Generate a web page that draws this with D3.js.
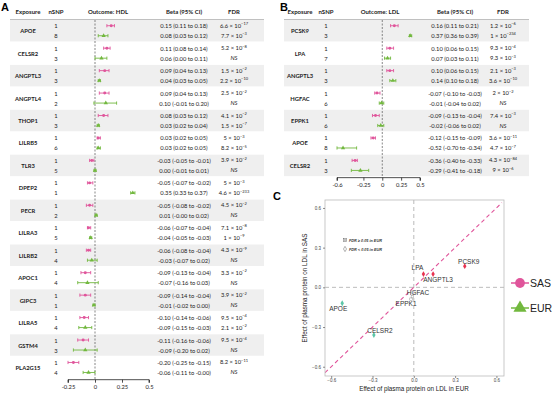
<!DOCTYPE html>
<html>
<head>
<meta charset="utf-8">
<script src="https://cdn.jsdelivr.net/npm/d3@7"></script>
<style>
  body { margin: 0; background: #fff; }
  svg { display: block; }
  .tbl { font-family: Lato, "Open Sans", sans-serif; fill: #222; }
  .gg { font-family: "Liberation Sans", Arial, sans-serif; }
</style>
</head>
<body>
<svg id="fig" width="554" height="395"></svg>
<script>
// ---- data: HDL (panel A) ----
const hdlGenes = ["APOE", "CELSR2", "ANGPTL3", "ANGPTL4", "THOP1", "LILRB5", "TLR3", "DPEP2",
  "PECR", "LILRA3", "LILRB2", "APOC1", "GIPC3", "LILRA5", "GSTM4", "PLA2G15"];
// [nSNP, beta, lower, upper, FDR]
const hdlSas = [
  [1, 0.15, 0.11, 0.18, "6.6e-17"], [1, 0.11, 0.08, 0.14, "5.2e-8"], [1, 0.09, 0.04, 0.13, "1.5e-2"],
  [1, 0.09, 0.04, 0.13, "2.5e-2"], [1, 0.08, 0.03, 0.12, "4.1e-2"], [1, 0.03, 0.02, 0.05, "5e-3"],
  [1, -0.03, -0.05, -0.01, "3.9e-2"], [1, -0.05, -0.07, -0.02, "5e-3"], [1, -0.05, -0.08, -0.02, "4.5e-2"],
  [1, -0.06, -0.07, -0.04, "7.1e-8"], [1, -0.06, -0.08, -0.04, "4.3e-9"], [1, -0.09, -0.13, -0.04, "3.3e-2"],
  [1, -0.09, -0.14, -0.04, "3.9e-2"], [1, -0.10, -0.14, -0.06, "9.5e-4"], [1, -0.11, -0.16, -0.06, "9.5e-4"],
  [1, -0.20, -0.25, -0.15, "8.2e-11"]];
const hdlEur = [
  [8, 0.08, 0.03, 0.12, "7.7e-3"], [3, 0.06, 0.00, 0.11, "NS"], [3, 0.04, 0.03, 0.05, "2.2e-10"],
  [2, 0.10, -0.01, 0.20, "NS"], [3, 0.03, 0.02, 0.04, "1.5e-7"], [6, 0.03, 0.02, 0.05, "8.2e-5"],
  [5, 0.00, -0.01, 0.01, "NS"], [1, 0.35, 0.33, 0.37, "4.6e-233"], [2, 0.01, -0.00, 0.02, "NS"],
  [5, -0.04, -0.05, -0.03, "1e-9"], [4, -0.03, -0.07, 0.02, "NS"], [4, -0.07, -0.16, 0.03, "NS"],
  [1, -0.01, -0.02, 0.00, "NS"], [4, -0.09, -0.15, -0.03, "2.1e-2"], [3, -0.09, -0.20, 0.02, "NS"],
  [4, -0.06, -0.11, -0.00, "NS"]];
const hdlTicks = [-0.25, 0, 0.25, 0.5];

// ---- data: LDL (panel B, also panel C) ----
const ldlGenes = ["PCSK9", "LPA", "ANGPTL3", "HGFAC", "EPPK1", "APOE", "CELSR2"];
const ldlSas = [
  [1, 0.16, 0.11, 0.21, "1.2e-6"], [1, 0.10, 0.06, 0.15, "9.3e-4"], [1, 0.10, 0.06, 0.15, "2.1e-3"],
  [1, -0.07, -0.10, -0.03, "2e-2"], [1, -0.09, -0.13, -0.04, "7.4e-3"], [1, -0.12, -0.15, -0.09, "3.6e-11"],
  [1, -0.36, -0.40, -0.33, "4.3e-84"]];
const ldlEur = [
  [3, 0.37, 0.36, 0.39, "1e-234"], [7, 0.07, 0.03, 0.11, "9.3e-3"], [3, 0.14, 0.10, 0.18, "3.6e-10"],
  [6, -0.01, -0.04, 0.02, "NS"], [6, -0.02, -0.06, 0.02, "NS"], [8, -0.52, -0.70, -0.34, "4.7e-7"],
  [3, -0.29, -0.41, -0.18, "9e-6"]];
const ldlTicks = [-0.6, -0.25, 0, 0.25, 0.5];

const scatterTicks = [-0.6, -0.3, 0.0, 0.3, 0.6];

const pink = "#e0559b", green = "#72b83e";
const svg = d3.select("#fig");

function fmt(v) {
  return (v < 0 || Object.is(v, -0) ? "-" : "") + Math.abs(v).toFixed(2);
}

function fdrText(sel, s) {
  if (s === "NS") {
    sel.append("tspan").attr("font-style", "italic").text("NS");
    return;
  }
  const [m, e] = s.split("e");
  sel.append("tspan").text(m + " \u00d7 10");
  sel.append("tspan").attr("dy", -2.3).attr("font-size", 4).text("\u2212" + e.replace("-", ""));
}

function forest(cfg) {
  const g = svg.append("g");
  const y = d3.scaleBand().domain(cfg.genes).range([19.5, 19.5 + cfg.genes.length * 22.45]);
  const x = d3.scaleLinear().domain(cfg.domain).range(cfg.range);
  const bottom = y.range()[1];

  // panel letter
  svg.append("text").attr("x", cfg.letterX).attr("y", 11).attr("font-family", "Liberation Sans, Arial")
    .attr("font-weight", "bold").attr("font-size", 11).text(cfg.letter);

  // shaded bands
  g.selectAll("rect.band").data(cfg.genes.filter((d, i) => i % 2 === 0)).enter().append("rect")
    .attr("x", cfg.bandX[0]).attr("width", cfg.bandX[1] - cfg.bandX[0])
    .attr("y", d => y(d) + 0.5).attr("height", y.bandwidth() - 1)
    .attr("fill", "#efefef");
  g.append("line").attr("x1", cfg.bandX[0]).attr("x2", cfg.bandX[1]).attr("y1", 19.5).attr("y2", 19.5)
    .attr("stroke", "#b0b0b0").attr("stroke-width", 0.8);

  // headers
  const hdr = [[cfg.cols.exp, "Exposure"], [cfg.cols.snp, "nSNP"], [cfg.cols.plot, cfg.outcome],
    [cfg.cols.beta, "Beta (95% CI)"], [cfg.cols.fdr, "FDR"]];
  g.selectAll("text.hdr").data(hdr).enter().append("text").attr("class", "tbl")
    .attr("x", d => d[0]).attr("y", 14).attr("text-anchor", "middle")
    .attr("font-size", 6).attr("font-weight", "bold").text(d => d[1]);

  // gene names
  g.selectAll("text.gene").data(cfg.genes).enter().append("text").attr("class", "tbl")
    .attr("x", cfg.cols.exp).attr("y", d => y(d) + y.bandwidth() / 2)
    .attr("dominant-baseline", "central").attr("text-anchor", "middle")
    .attr("font-size", 5.8).attr("font-weight", "bold").text(d => d);

  // zero line
  g.append("line").attr("x1", x(0)).attr("x2", x(0)).attr("y1", 20).attr("y2", bottom + 1)
    .attr("stroke", "#555").attr("stroke-width", 0.7).attr("stroke-dasharray", "2,1.5");

  const rows = [];
  cfg.genes.forEach((gene, i) => {
    rows.push({ gene, r: cfg.sas[i], pop: "SAS", yy: y(gene) + y.bandwidth() / 2 - 5 });
    rows.push({ gene, r: cfg.eur[i], pop: "EUR", yy: y(gene) + y.bandwidth() / 2 + 5 });
  });
  const clip = v => Math.max(cfg.domain[0], Math.min(cfg.domain[1], v));

  rows.forEach(d => {
    const col = d.pop === "SAS" ? pink : green;
    g.append("text").attr("class", "tbl").attr("x", cfg.cols.snp).attr("y", d.yy)
      .attr("dominant-baseline", "central").attr("text-anchor", "middle").attr("font-size", 5.8)
      .text(d.r[0]);
    g.append("text").attr("class", "tbl").attr("x", cfg.cols.beta).attr("y", d.yy)
      .attr("dominant-baseline", "central").attr("text-anchor", "middle").attr("font-size", 5.8)
      .text(`${fmt(d.r[1])} (${fmt(d.r[2])} to ${fmt(d.r[3])})`);
    const ft = g.append("text").attr("class", "tbl").attr("x", cfg.cols.fdr).attr("y", d.yy + 2)
      .attr("text-anchor", "middle").attr("font-size", 5.8);
    fdrText(ft, d.r[4]);

    const x1 = x(clip(d.r[2])), x2 = x(clip(d.r[3]));
    g.append("line").attr("x1", x1).attr("x2", x2).attr("y1", d.yy).attr("y2", d.yy)
      .attr("stroke", col).attr("stroke-width", 0.9);
    [x1, x2].forEach(xx => g.append("line").attr("x1", xx).attr("x2", xx)
      .attr("y1", d.yy - 1.6).attr("y2", d.yy + 1.6).attr("stroke", col).attr("stroke-width", 0.9));
    g.append("path").attr("transform", `translate(${x(d.r[1])},${d.yy})`)
      .attr("d", d3.symbol().type(d.pop === "SAS" ? d3.symbolCircle : d3.symbolTriangle).size(d.pop === "SAS" ? 7 : 8)())
      .attr("fill", col);
  });

  // axis
  const ax = g.append("g").attr("transform", `translate(0,${bottom + 1})`)
    .call(d3.axisBottom(x).tickValues(cfg.ticks).tickSize(3).tickFormat(d => d === 0 ? "0" : String(d)));
  ax.select(".domain").attr("stroke", "#222").attr("stroke-width", 0.8)
    .attr("d", `M${x(cfg.domain[0])},3V0H${x(cfg.domain[1])}V3`);
  ax.selectAll(".tick line").attr("stroke", "#222").attr("stroke-width", 0.8);
  ax.selectAll(".tick text").attr("font-family", "Lato, sans-serif").attr("font-size", 5.8)
    .attr("fill", "#222").attr("dy", "0.5em");
}

forest({
  letter: "A", letterX: 1, genes: hdlGenes, sas: hdlSas, eur: hdlEur, outcome: "Outcome: HDL",
  domain: [-0.25, 0.5], range: [68, 149], ticks: hdlTicks, bandX: [10, 264],
  cols: { exp: 28, snp: 56, plot: 108, beta: 184, fdr: 234 }
});
forest({
  letter: "B", letterX: 280, genes: ldlGenes, sas: ldlSas, eur: ldlEur, outcome: "Outcome: LDL",
  domain: [-0.6, 0.5], range: [337, 420], ticks: ldlTicks, bandX: [284, 529],
  cols: { exp: 300, snp: 326, plot: 380, beta: 455, fdr: 503 }
});

// ---- panel C: scatter of LDL effects ----
svg.append("text").attr("x", 273).attr("y", 200).attr("font-family", "Liberation Sans, Arial")
  .attr("font-weight", "bold").attr("font-size", 11).text("C");

const px = d3.scaleLinear().domain([-0.645, 0.655]).range([325, 504]);
const py = d3.scaleLinear().domain([-0.67, 0.66]).range([376, 200]);
const cg = svg.append("g").attr("class", "gg");

cg.append("clipPath").attr("id", "cclip").append("rect")
  .attr("x", 325).attr("y", 200).attr("width", 179).attr("height", 176);

cg.append("line").attr("x1", px(0)).attr("x2", px(0)).attr("y1", 200).attr("y2", 376)
  .attr("stroke", "#aaa").attr("stroke-width", 0.8).attr("stroke-dasharray", "4,3");
cg.append("line").attr("x1", 325).attr("x2", 504).attr("y1", py(0)).attr("y2", py(0))
  .attr("stroke", "#aaa").attr("stroke-width", 0.8).attr("stroke-dasharray", "4,3");
cg.append("line").attr("clip-path", "url(#cclip)")
  .attr("x1", px(-0.645)).attr("y1", py(-0.645)).attr("x2", px(0.64)).attr("y2", py(0.64))
  .attr("stroke", pink).attr("stroke-width", 1.1).attr("stroke-dasharray", "4,3");

const pts = ldlGenes.map((gene, i) => ({
  gene, ex: ldlEur[i][1], sy: ldlSas[i][1], ns: ldlEur[i][4] === "NS"
}));
pts.forEach(p => {
  const col = p.ns ? "#999" : (p.ex > 0 ? "#e8334f" : "#5cc6a8");
  if (p.ns) {
    cg.append("rect").attr("x", px(p.ex) - 1.3).attr("y", py(p.sy) - 1.3).attr("width", 2.6).attr("height", 2.6)
      .attr("fill", "none").attr("stroke", col).attr("stroke-width", 0.5);
  } else {
    cg.append("path").attr("transform", `translate(${px(p.ex)},${py(p.sy)})`)
      .attr("d", d3.symbol().type(d3.symbolDiamond).size(10)()).attr("fill", col);
  }
});

// point labels (offsets only)
const lblOff = { PCSK9: [4, -2.5], LPA: [-6, -4.5], ANGPTL3: [5, 7.5], HGFAC: [5.5, -1.5], EPPK1: [-5, 7], APOE: [-4, 8], CELSR2: [6, -2] };
pts.forEach(p => {
  const o = lblOff[p.gene];
  cg.append("text").attr("x", px(p.ex) + o[0]).attr("y", py(p.sy) + o[1]).attr("text-anchor", "middle")
    .attr("font-size", 6.5).attr("fill", "#333").text(p.gene);
});

cg.append("rect").attr("x", 325).attr("y", 200).attr("width", 179).attr("height", 176)
  .attr("fill", "none").attr("stroke", "#bbb").attr("stroke-width", 0.8);

const xa = cg.append("g").attr("transform", "translate(0,376)")
  .call(d3.axisBottom(px).tickValues(scatterTicks).tickSize(2).tickPadding(1).tickFormat(d3.format(".1f")));
const ya = cg.append("g").attr("transform", "translate(325,0)")
  .call(d3.axisLeft(py).tickValues(scatterTicks).tickSize(2).tickPadding(2).tickFormat(d3.format(".1f")));
[xa, ya].forEach(a => {
  a.select(".domain").remove();
  a.selectAll(".tick line").attr("stroke", "#444").attr("stroke-width", 0.6);
  a.selectAll(".tick text").attr("font-family", "Liberation Sans, Arial").attr("font-size", 4.5).attr("fill", "#444");
});

cg.append("text").attr("x", 414).attr("y", 391).attr("text-anchor", "middle").attr("font-size", 6.3)
  .attr("fill", "#222").text("Effect of plasma protein on LDL in EUR");
cg.append("text").attr("transform", "translate(307,288) rotate(-90)").attr("text-anchor", "middle")
  .attr("font-size", 6.3).attr("fill", "#222").text("Effect of plasma protein on LDL in SAS");

// inner legend
cg.append("rect").attr("x", 343.5).attr("y", 238.5).attr("width", 3).attr("height", 3)
  .attr("fill", "none").attr("stroke", "#666").attr("stroke-width", 0.5);
cg.append("path").attr("d", "M343.5,238.5L346.5,241.5").attr("stroke", "#666").attr("stroke-width", 0.4);
cg.append("path").attr("d", "M346.5,238.5L343.5,241.5").attr("stroke", "#666").attr("stroke-width", 0.4);
cg.append("path").attr("transform", "translate(345,249)")
  .attr("d", d3.symbol().type(d3.symbolDiamond).size(8)()).attr("fill", "none").attr("stroke", "#666").attr("stroke-width", 0.5);
cg.append("text").attr("x", 349).attr("y", 241.5).attr("font-size", 3.8).attr("font-style", "italic")
  .attr("font-weight", "bold").attr("fill", "#333").text("FDR \u2265 0.05 in EUR");
cg.append("text").attr("x", 349).attr("y", 250.5).attr("font-size", 3.8).attr("font-style", "italic")
  .attr("font-weight", "bold").attr("fill", "#333").text("FDR < 0.05 in EUR");

// outer legend
const popLegend = [{ name: "SAS", col: pink, sym: d3.symbolCircle, y: 283 }, { name: "EUR", col: green, sym: d3.symbolTriangle, y: 308 }];
popLegend.forEach(l => {
  cg.append("line").attr("x1", 511).attr("x2", 529).attr("y1", l.y).attr("y2", l.y)
    .attr("stroke", l.col).attr("stroke-width", 1.5);
  cg.append("path").attr("transform", `translate(520,${l.y})`)
    .attr("d", d3.symbol().type(l.sym).size(75)()).attr("fill", l.col);
  cg.append("text").attr("x", 530).attr("y", l.y + 3.8).attr("font-size", 10.5).attr("fill", "#222").text(l.name);
});
</script>
</body>
</html>
